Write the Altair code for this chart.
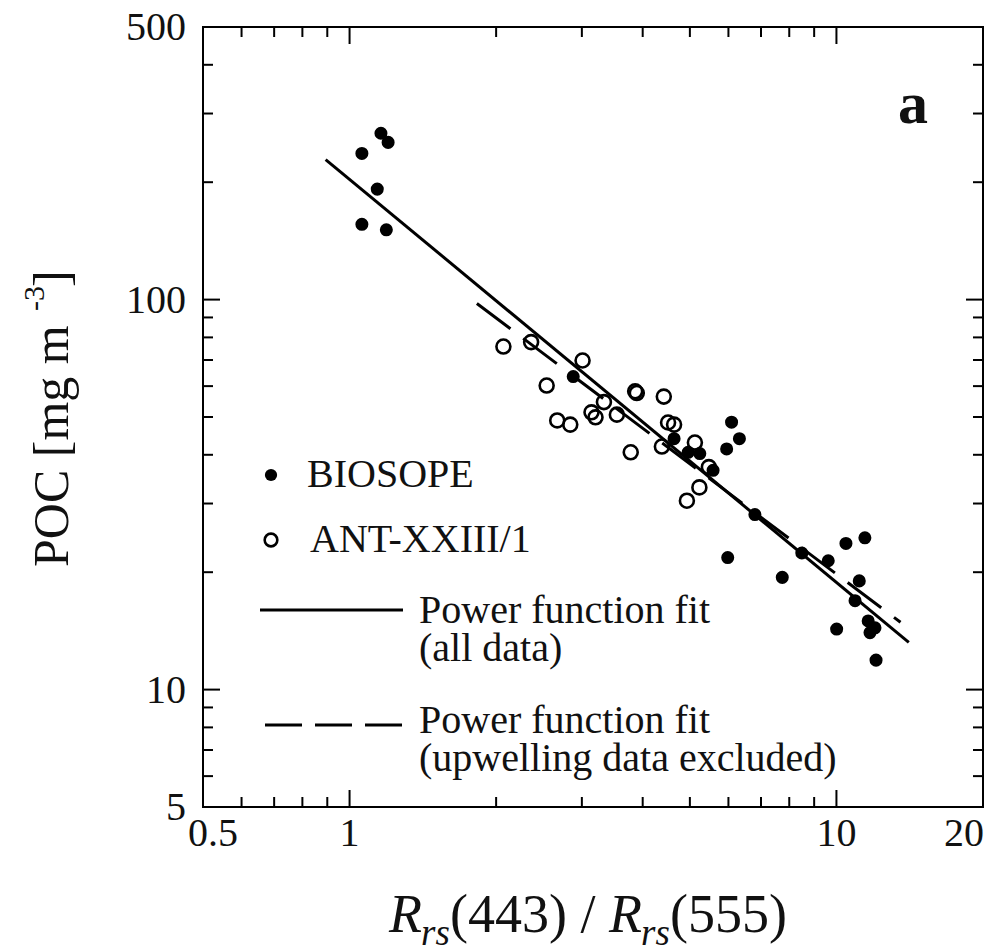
import altair as alt
import pandas as pd

# ---------------- data ----------------
biosope_x = [1.06, 1.16, 1.20, 1.14, 1.06, 1.19, 2.88, 4.64, 4.96, 5.24, 5.58, 6.09, 6.32, 5.95,
             6.80, 5.98, 7.74, 8.49, 9.62, 10.46, 11.44, 11.14, 10.92, 10.01, 11.62, 12.00, 11.72, 12.06]
biosope_y = [237, 267, 253, 192, 156, 151, 63.5, 44.0, 40.6, 40.3, 36.5, 48.5, 44.0, 41.4,
             28.1, 21.8, 19.4, 22.4, 21.4, 23.7, 24.5, 19.0, 16.9, 14.3, 15.0, 14.4, 14.0, 11.9]

ant_x = [2.07, 2.36, 3.01, 2.54, 2.67, 2.84, 3.14, 3.20, 3.33, 3.54, 3.86, 3.89, 4.42, 4.51,
         4.64, 3.78, 4.38, 5.12, 5.47, 5.23, 4.93]
ant_y = [75.8, 77.8, 69.8, 60.2, 49.0, 47.8, 51.4, 49.9, 54.6, 50.7, 58.2, 57.6, 56.4, 48.4,
         47.8, 40.6, 42.0, 43.0, 37.2, 33.0, 30.5]

fit_all_x = [0.893, 14.08]
fit_all_y = [228.6, 13.22]
fit_excl_x = [1.826, 13.54]
fit_excl_y = [97.7, 14.88]

x_labels = [0.5, 1, 10, 20]
x_label_text = ["0.5", "1", "10", "20"]
y_labels = [5, 10, 100, 500]
y_label_text = ["5", "10", "100", "500"]
x_minor = [0.6, 0.7, 0.8, 0.9, 2, 3, 4, 5, 6, 7, 8, 9]
x_major = [1, 10]
y_minor = [6, 7, 8, 9, 20, 30, 40, 50, 60, 70, 80, 90, 200, 300, 400]
y_major = [10, 100]

legend_labels = ["BIOSOPE", "ANT-XXIII/1", "Power function fit", "(all data)",
                 "Power function fit", "(upwelling data excluded)"]

# ---------------- styling ----------------
SERIF = "Liberation Serif"
INK = "#111111"
W, H = 780, 780
OX, OY = 203, 27  # page position of plot origin (for annotations)

xscale = alt.Scale(type="log", domain=[0.5, 20], nice=False)
yscale = alt.Scale(type="log", domain=[5, 500], nice=False)


def X(field="x"):
    return alt.X(f"{field}:Q", scale=xscale, axis=None)


def Y(field="y"):
    return alt.Y(f"{field}:Q", scale=yscale, axis=None)


pts_b = pd.DataFrame({"x": biosope_x, "y": biosope_y})
pts_a = pd.DataFrame({"x": ant_x, "y": ant_y})

open_pts = alt.Chart(pts_a).mark_point(shape="circle", filled=False, size=195, strokeWidth=2.6,
                                       color="black", opacity=1).encode(x=X(), y=Y())
filled = alt.Chart(pts_b).mark_circle(size=170, color="black", opacity=1).encode(x=X(), y=Y())

line_all = alt.Chart(pd.DataFrame({"x": fit_all_x, "y": fit_all_y})).mark_line(
    color="black", strokeWidth=3).encode(x=X(), y=Y())
line_excl = alt.Chart(pd.DataFrame({"x": fit_excl_x, "y": fit_excl_y})).mark_line(
    color="black", strokeWidth=3, strokeDash=[42, 16]).encode(x=X(), y=Y())

# inward ticks on all four sides
tick_layers = []
for vals, ln in [(x_minor, 10), (x_major, 17)]:
    df = pd.DataFrame({"x": vals})
    tick_layers.append(alt.Chart(df).mark_rule(color="black", strokeWidth=2).encode(
        x=X(), y=alt.value(H), y2=alt.value(H - ln)))
    tick_layers.append(alt.Chart(df).mark_rule(color="black", strokeWidth=2).encode(
        x=X(), y=alt.value(0), y2=alt.value(ln)))
for vals, ln in [(y_minor, 10), (y_major, 17)]:
    df = pd.DataFrame({"y": vals})
    tick_layers.append(alt.Chart(df).mark_rule(color="black", strokeWidth=2).encode(
        y=Y(), x=alt.value(0), x2=alt.value(ln)))
    tick_layers.append(alt.Chart(df).mark_rule(color="black", strokeWidth=2).encode(
        y=Y(), x=alt.value(W), x2=alt.value(W - ln)))

# tick labels placed through the scales (end labels nudged inward as in the figure)
xlab_df = pd.DataFrame({"x": x_labels, "t": x_label_text})
xlab_layers = []
for i, (al, dx) in enumerate([("center", 10), ("center", 0), ("center", 0), ("right", 1)]):
    xlab_layers.append(alt.Chart(xlab_df.iloc[[i]]).mark_text(
        font=SERIF, fontSize=40, color=INK, align=al, baseline="alphabetic", dx=dx).encode(
        x=X(), y=alt.value(H + 39), text="t:N"))
ylab = alt.Chart(pd.DataFrame({"y": y_labels, "t": y_label_text})).mark_text(
    font=SERIF, fontSize=40, color=INK, align="right", baseline="alphabetic", dy=13).encode(
    y=Y(), x=alt.value(-17), text="t:N")


def txt(s, px, py, size, angle=0, italic=False, bold=False):
    kw = dict(font=SERIF, fontSize=size, align="left", baseline="alphabetic", color=INK)
    if angle:
        kw["angle"] = angle
    if italic:
        kw["fontStyle"] = "italic"
    if bold:
        kw["fontWeight"] = "bold"
    return alt.Chart(pd.DataFrame({"t": [s]})).mark_text(**kw).encode(
        x=alt.value(px - OX), y=alt.value(py - OY), text="t:N")


annot = []
# x-axis title  R_rs(443) / R_rs(555)
TB, SB = 932, 945
annot += [
    txt("R", 389, TB, 54, italic=True),
    txt("rs", 421, SB, 37, italic=True),
    txt("(443) / ", 450, TB, 54),
    txt("R", 609, TB, 54, italic=True),
    txt("rs", 641, SB, 37, italic=True),
    txt("(555)", 670, TB, 54),
]
# y-axis title  POC [mg m^-3]
annot += [
    txt("POC  [mg m", 68, 567, 50, angle=270),
    txt("-3", 44, 567 - 256, 30, angle=270),
    txt("]", 68, 567 - 256 - 24, 50, angle=270),
]
# panel letter
annot.append(txt("a", 898, 123, 60, bold=True))

# legend
LEGFS = 40
leg_sym_b = alt.Chart(pd.DataFrame({"t": [legend_labels[0]]})).mark_circle(
    size=150, color="black", opacity=1).encode(x=alt.value(271 - OX), y=alt.value(475 - OY))
leg_sym_a = alt.Chart(pd.DataFrame({"t": [legend_labels[1]]})).mark_point(
    shape="circle", filled=False, size=160, strokeWidth=2.6, color="black", opacity=1).encode(
    x=alt.value(271 - OX), y=alt.value(540 - OY))
leg_line_all = alt.Chart(pd.DataFrame({"t": [legend_labels[2]]})).mark_rule(
    color="black", strokeWidth=3).encode(
    x=alt.value(260 - OX), x2=alt.value(403 - OX), y=alt.value(610 - OY))
leg_line_excl = alt.Chart(pd.DataFrame({"t": [legend_labels[4]]})).mark_rule(
    color="black", strokeWidth=3, strokeDash=[37, 13]).encode(
    x=alt.value(265 - OX), x2=alt.value(403 - OX), y=alt.value(725 - OY))
annot += [leg_sym_b, leg_sym_a, leg_line_all, leg_line_excl,
          txt(legend_labels[0], 307, 487, LEGFS),
          txt(legend_labels[1], 310, 552, LEGFS),
          txt(legend_labels[2], 419, 623, LEGFS),
          txt(legend_labels[3], 419, 661, LEGFS),
          txt(legend_labels[4], 419, 733, LEGFS),
          txt(legend_labels[5], 419, 771, LEGFS)]

chart = alt.layer(open_pts, filled, line_all, line_excl, *tick_layers, *xlab_layers, ylab,
                  *annot).properties(
    width=W, height=H,
    background="white",
    autosize=alt.AutoSizeParams(type="none"),
    padding={"left": 195, "top": 19, "right": 10, "bottom": 142},
).configure_view(stroke="black", strokeWidth=2)

chart.save("out.html", embed_options={"renderer": "svg", "actions": False})
